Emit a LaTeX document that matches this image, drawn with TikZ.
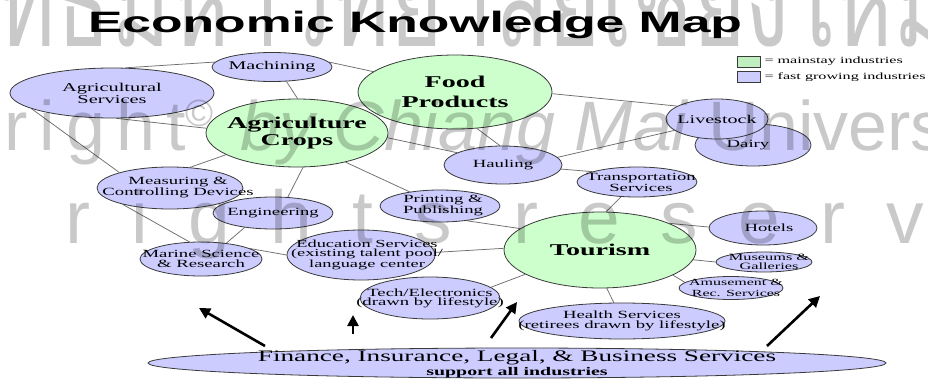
\documentclass[tikz,border=0pt]{standalone}
\usepackage{fontspec}
\usetikzlibrary{shapes.geometric,arrows.meta}

% stretched faces for the map texts
\newfontfamily\wserif[FakeStretch=1.7]{Liberation Serif}
\newfontfamily\titlefont[FakeStretch=1.75]{Liberation Sans}
% faces for the copyright stamp
\newfontfamily\wmsans{Liberation Sans}
\newfontfamily\wmwide[LetterSpace=16]{Liberation Sans}
\newfontfamily\wmspaced[LetterSpace=54]{Liberation Sans}
\newfontfamily\wmthai[Script=Thai,FakeStretch=0.72]{Loma}

\definecolor{fastfill}{HTML}{CCCCFF}
\definecolor{mainfill}{HTML}{CCFFCC}
\definecolor{keygreen}{HTML}{BFEFBF}
\definecolor{rim}{HTML}{3A3A3A}
\definecolor{wirec}{HTML}{6E6E6E}

\pgfdeclarelayer{paper}
\pgfdeclarelayer{wires}
\pgfdeclarelayer{stamp}
\pgfsetlayers{paper,wires,main,stamp}

\tikzset{
  fast/.style={ellipse, draw=rim, fill=fastfill, line width=0.8pt, inner sep=0pt},
  core/.style={ellipse, draw=rim, fill=mainfill, line width=0.8pt, inner sep=0pt},
  dims/.style 2 args={minimum width=#1, minimum height=#2},
  txt/.style={font=\wserif\fontsize{11}{11}\selectfont, align=center, inner sep=0pt},
  bigtxt/.style={font=\wserif\bfseries\fontsize{16.5}{18}\selectfont, align=center, inner sep=0pt},
  conn/.style={draw=wirec, line width=0.75pt},
  heavyarrow/.style={line width=2.6pt, -{Triangle[length=11pt,width=11pt]}},
  keybox/.style={draw=rim, line width=0.6pt, minimum width=23pt, minimum height=11pt, inner sep=0pt},
  keytxt/.style={font=\wserif\fontsize{9.5}{10}\selectfont, anchor=west, inner sep=0pt},
  stamp/.style={text=black, text opacity=0.21, inner sep=0pt},
}

\begin{document}
\begin{tikzpicture}[x=1pt,y=-1pt]
\useasboundingbox (0,0) rectangle (928,380);
\clip (0,0) rectangle (928,380);
\begin{pgfonlayer}{paper}
\fill[white] (0,0) rectangle (928,380);
\end{pgfonlayer}

% title
\node[inner sep=0pt] (title) at (415,25)
  {\titlefont\bfseries\fontsize{29.5}{30}\selectfont Economic Knowledge Map};

% legend
\node[keybox, fill=keygreen] (keymain) at (748.5,61.5) {};
\node[keytxt] (keymaintxt) at ([xshift=4pt]keymain.east) {= mainstay industries};
\node[keybox, fill=fastfill] (keyfast) at (748.5,77) {};
\node[keytxt] (keyfasttxt) at ([xshift=4pt]keyfast.east) {= fast growing industries};

% industries
\node[fast, dims={120pt}{29pt}, label={[txt,font=\wserif\fontsize{11.8}{12}\selectfont]center:Machining}] (mach) at (272,67) {};
\node[fast, dims={204pt}{50pt}, label={[txt,font=\wserif\fontsize{12}{12}\selectfont]center:Agricultural\\Services}] (agsv) at (112,93) {};
\node[core, dims={194pt}{74pt}, label={[bigtxt,font=\wserif\bfseries\fontsize{16.5}{20}\selectfont]center:Food\\Products}] (food) at (455,92) {};
\node[core, dims={182pt}{68pt}, label={[bigtxt,font=\wserif\bfseries\fontsize{16.5}{17}\selectfont]center:Agriculture\\Crops}] (crops) at (297,133) {};
\node[fast, dims={116pt}{42pt}, label={[txt,xshift=-5pt]center:Dairy}] (dairy) at (753,145) {};
\node[fast, dims={102pt}{40pt}, label={[txt,font=\wserif\fontsize{11.8}{12}\selectfont]center:Livestock}] (live) at (717,119) {};
\node[fast, dims={118pt}{38pt}, label={[txt]center:Hauling}] (haul) at (503,165) {};
\node[fast, dims={120pt}{30pt}, label={[txt,xshift=4pt]center:Transportation\\Services}] (trans) at (637,182) {};
\node[fast, dims={146pt}{42pt}, label={[txt,xshift=8pt]center:Measuring \&\\Controlling Devices}] (meas) at (170,188) {};
\node[fast, dims={120pt}{32pt}, label={[txt]center:Engineering}] (eng) at (273,213) {};
\node[fast, dims={120pt}{32pt}, label={[txt,xshift=3pt,font=\wserif\fontsize{11}{10}\selectfont]center:Printing \&\\Publishing}] (print) at (440,206) {};
\node[fast, dims={122pt}{34pt}, label={[txt,font=\wserif\fontsize{11}{10.5}\selectfont]center:Marine Science\\\& Research}] (marine) at (201,259) {};
\node[fast, dims={148pt}{50pt}, label={[txt,xshift=6pt,font=\wserif\fontsize{10.8}{9.2}\selectfont]center:Education Services\\(existing talent pool/\\language center}] (edu) at (361,255) {};
\node[core, dims={192pt}{76pt}, label={[bigtxt]center:Tourism}] (tour) at (600,250) {};
\node[fast, dims={108pt}{34pt}, label={[txt,xshift=6pt]center:Hotels}] (hotel) at (763,228) {};
\node[fast, dims={96pt}{20pt}, label={[txt,xshift=5pt,font=\wserif\fontsize{9.6}{9}\selectfont]center:Museums \&\\Galleries}] (muse) at (764,262) {};
\node[fast, dims={104pt}{23pt}, label={[txt,xshift=5pt,font=\wserif\fontsize{9.4}{10.5}\selectfont]center:Amusement \&\\Rec. Services}] (amuse) at (731,288) {};
\node[fast, dims={140pt}{42pt}, label={[txt,font=\wserif\fontsize{11}{9}\selectfont]center:Tech/Electronics\\(drawn by lifestyle)}] (tech) at (430,298) {};
\node[fast, dims={206pt}{36pt}, label={[txt,font=\wserif\fontsize{11}{9.5}\selectfont]center:Health Services\\(retirees drawn by lifestyle)}] (health) at (622,321) {};
\node[fast, dims={738pt}{30pt}, label={[txt,yshift=-1pt,font=\wserif\fontsize{16}{14}\selectfont]center:Finance, Insurance, Legal, \& Business Services\\{\bfseries\fontsize{11.7}{12}\selectfont support all industries}}] (fin) at (517,363) {};

% connectors between industries
\begin{pgfonlayer}{wires}
\draw[conn] (mach.175) -- (agsv.62);
\draw[conn] (mach.5) -- (food.166);
\draw[conn] (mach.-45) -- (crops.89);
\draw[conn] (agsv.-80) -- (crops.177);
\draw[conn] (agsv.-169) -- (meas.163);
\draw[conn] (meas.-161) -- (marine.124);
\draw[conn] (meas.46) -- (crops.-163);
\draw[conn] (crops.-80) -- (eng.47);
\draw[conn] (eng.-153) -- (marine.32);
\draw[conn] (crops.-31) -- (print.155);
\draw[conn] (crops.-3) -- (haul.165);
\draw[conn] (food.-59) -- (haul.99);
\draw[conn] (food.-1) -- (live.162);
\draw[conn] (haul.8) -- (live.-165);
\draw[conn] (haul.-4) -- (trans.167);
\draw[conn] (trans.-137) -- (tour.81);
\draw[conn] (print.-29) -- (tour.165);
\draw[conn] (edu.2) -- (tour.179);
\draw[conn] (marine.12) -- (edu.180);
\draw[conn] (tech.10) -- (tour.-162);
\draw[conn] (tour.21) -- (hotel.179);
\draw[conn] (tour.-6) -- (muse.180);
\draw[conn] (tour.-19) -- (amuse.173);
\draw[conn] (tour.-80) -- (health.114);
\end{pgfonlayer}

% support arrows rising from the services band
\coordinate (a1s) at (265,346); \coordinate (a1e) at (199,308);
\coordinate (a2s) at (353,334); \coordinate (a2e) at (353,315);
\coordinate (a3s) at (491,338); \coordinate (a3e) at (517,302);
\coordinate (a4s) at (767,346); \coordinate (a4e) at (820,296);
\draw[heavyarrow] (a1s) -- (a1e);
\draw[heavyarrow] (a2s) -- (a2e);
\draw[heavyarrow] (a3s) -- (a3e);
\draw[heavyarrow] (a4s) -- (a4e);

% copyright stamp over the whole sheet
\begin{pgfonlayer}{stamp}
\node[stamp, anchor=base west] (wmline1) at (-175,46)
  {\wmthai\fontsize{125}{125}\selectfont ลิขสิทธิ์มหาวิทยาลัยเชียงใหม่};
\node[stamp, anchor=base east] (wmline2a) at (214,150)
  {\wmwide\fontsize{70}{70}\selectfont Copyright\raisebox{24pt}{\fontsize{38}{38}\selectfont ©}};
\node[stamp, anchor=base west] (wmline2b) at (240,150)
  {\wmsans\fontsize{70}{70}\selectfont\textit{by Chiang Mai} University};
\node[stamp, anchor=base west] (wmline3) at (-160,243)
  {\wmspaced\fontsize{75}{75}\selectfont All rights reserved};
\end{pgfonlayer}
\end{tikzpicture}
\end{document}
